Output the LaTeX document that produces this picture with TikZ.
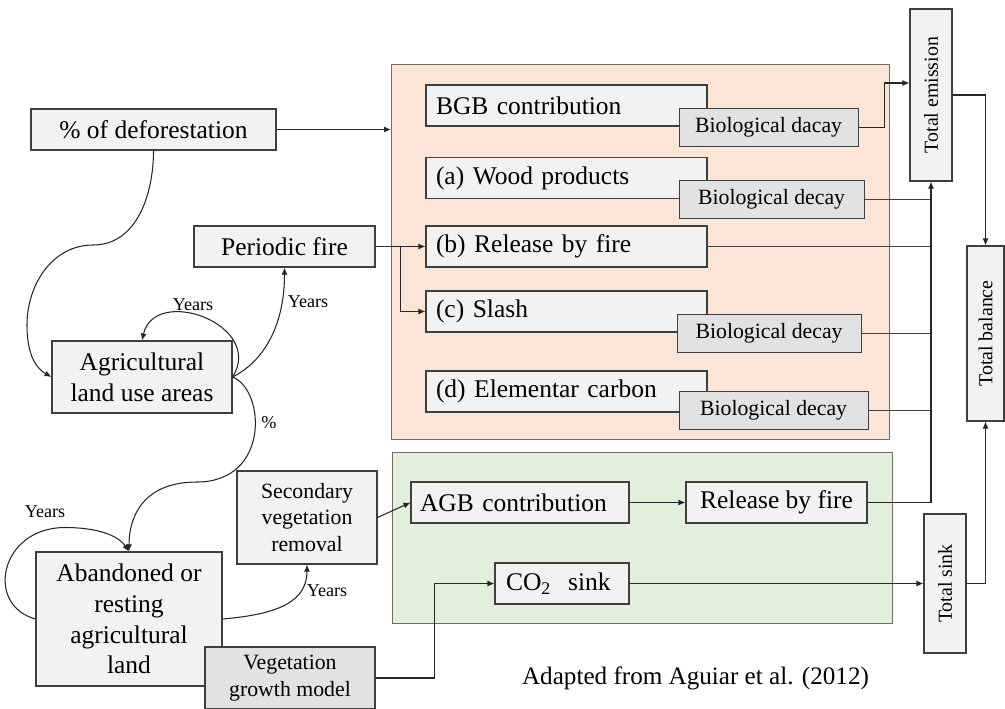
\documentclass[tikz,border=0pt]{standalone}
\usepackage{fontspec}
\setmainfont{Liberation Serif}
\usepackage{graphicx}
\usetikzlibrary{arrows.meta, positioning, calc}
\definecolor{boxgray}{HTML}{F2F2F2}
\definecolor{decaygray}{HTML}{E2E2E2}
\definecolor{emitorange}{HTML}{FBE5D6}
\definecolor{sinkgreen}{HTML}{E2EFDA}
\definecolor{edgegray}{HTML}{3F3F3F}
\definecolor{panelgray}{HTML}{746A66}
\tikzset{
    modelbox/.style={
        draw=edgegray,
        fill=boxgray,
        line width=0.6pt,
        align=center,
        inner sep=2pt,
        font=\fontsize{14.5}{17.5}\selectfont
    },
    poolbox/.style={modelbox, minimum height=0.82cm, inner xsep=0.2cm, align=left},
    decaybox/.style={modelbox, fill=decaygray, minimum height=0.76cm, font=\fontsize{12.4}{15}\selectfont},
    smallbox/.style={modelbox, font=\fontsize{12.4}{15.1}\selectfont},
    totalbox/.style={modelbox, font=\fontsize{11.3}{13}\selectfont},
    panel/.style={draw=panelgray, line width=0.6pt, anchor=north west},
    flow/.style={-{Latex[length=1.4mm, width=1.2mm]}, line width=0.6pt, draw=black!85},
    link/.style={line width=0.6pt, draw=black!75},
    tag/.style={font=\fontsize{10.3}{12}\selectfont, inner sep=1pt}
}
\begin{document}
\begin{tikzpicture}
    \useasboundingbox (0,0) rectangle (20.1,-14.18);

    \node[panel, fill=emitorange, minimum width=9.96cm, minimum height=7.5cm] (emitpanel) at (7.82,-1.28) {};
    \node[panel, fill=sinkgreen, minimum width=10cm, minimum height=3.42cm] (sinkpanel) at (7.84,-9.04) {};

    \node[modelbox, minimum width=4.9cm, minimum height=0.82cm] (deforest) at (3.07,-2.59) {\% of deforestation};
    \node[modelbox, minimum width=3.62cm, minimum height=0.82cm] (fire) at (5.69,-4.93) {Periodic fire};
    \node[modelbox, minimum width=3.6cm, minimum height=1.44cm] (agri) at (2.84,-7.54) {Agricultural\\land use areas};
    \node[modelbox, minimum width=3.72cm, minimum height=2.68cm] (abandoned) at (2.58,-12.38) {Abandoned or\\resting\\agricultural\\land};
    \node[smallbox, minimum width=2.8cm, minimum height=1.86cm] (secveg) at (6.14,-10.35) {Secondary\\vegetation\\removal};
    \node[smallbox, fill=decaygray, minimum width=3.4cm, minimum height=1.24cm] (growth) at (5.8,-13.56) {Vegetation\\growth model};

    \node[poolbox, text width=5.22cm] (bgb) at (11.33,-2.11) {BGB contribution};
    \node[poolbox, text width=5.22cm] (wood) at (11.33,-3.56) {(a) Wood products};
    \node[poolbox, text width=5.22cm] (relb) at (11.33,-4.93) {(b) Release by fire};
    \node[poolbox, text width=5.22cm] (slash) at (11.33,-6.23) {(c) Slash};
    \node[poolbox, text width=5.22cm] (elem) at (11.33,-7.83) {(d) Elementar carbon};

    \node[decaybox, minimum width=3.58cm, anchor=north west] (bgbdecay) at ($(bgb.south east)+(-0.58,0.38)$) {Biological dacay};
    \node[decaybox, minimum width=3.7cm, anchor=north west] (wooddecay) at ($(wood.south east)+(-0.58,0.38)$) {Biological decay};
    \node[decaybox, minimum width=3.68cm, anchor=north west] (slashdecay) at ($(slash.south east)+(-0.62,0.38)$) {Biological decay};
    \node[decaybox, minimum width=3.78cm, anchor=north west] (elemdecay) at ($(elem.south east)+(-0.58,0.44)$) {Biological decay};

    \node[poolbox, text width=4cm, inner xsep=0.18cm] (agb) at (10.4,-10.05) {AGB contribution};
    \node[modelbox, minimum width=3.62cm, minimum height=0.82cm] (greenfire) at (15.53,-10.05) {Release by fire};
    \node[poolbox, text width=2.24cm, inner xsep=0.22cm] (co2) at (11.24,-11.67) {CO\textsubscript{2}\ \ sink};

    \node[totalbox, minimum width=0.84cm, minimum height=3.44cm] (emission) at (18.62,-1.9) {\rotatebox{90}{Total emission}};
    \node[totalbox, minimum width=0.74cm, minimum height=3.5cm] (balance) at (19.71,-6.67) {\rotatebox{90}{Total balance}};
    \node[totalbox, minimum width=0.84cm, minimum height=2.78cm] (sink) at (18.9,-11.67) {\rotatebox{90}{Total sink}};

    \node[font=\fontsize{14.3}{17}\selectfont] (credit) at (13.91,-13.56) {Adapted from Aguiar et al. (2012)};

    \draw[flow] (deforest.east) -- (deforest.east -| emitpanel.west);
    \draw[flow] (fire.east) -- (relb.west);
    \coordinate (firesplit) at ($(fire.east)!0.5!(relb.west)$);
    \draw[flow] (firesplit) |- (slash.west);

    \draw[flow] (bgbdecay.east) -- ++(0.52,0) |- ($(emission.west)+(0,0.24)$);
    \draw[link] (wooddecay.east) -- (wooddecay.east -| emission.south);
    \draw[link] (relb.east) -- (relb.east -| emission.south);
    \draw[link] (slashdecay.east) -- (slashdecay.east -| emission.south);
    \draw[link] (elemdecay.east) -- (elemdecay.east -| emission.south);
    \draw[flow] (greenfire.east) -| (emission.south);
    \draw[flow] (emission.east) -| (balance.north);
    \draw[flow] (sink.east) -| (balance.south);
    \draw[flow] (co2.east) -- (sink.west);
    \draw[flow] (agb.east) -- (greenfire.west);
    \draw[flow] (secveg.east) -- (agb.west);
    \draw[flow] (growth.east) -- ++(1.18,0) |- (co2.west);

    \draw[flow] (deforest.south) to[out=-90, in=0] (1.86,-4.9) to[out=180, in=90] (0.54,-6.5) to[out=-90, in=150] (agri.west);
    \draw[flow] (agri.east) .. controls +(0.66,1.04) and +(0.26,1.12) .. (agri.north);
    \draw[flow] (agri.east) .. controls +(0.6,0.3) and +(0,-1.2) .. (fire.south);
    \draw[flow] (agri.east) .. controls +(0.66,-0.26) and (5.4,-9.64) .. (3.94,-9.64) .. controls (2.9,-9.64) and +(0,0.74) .. (abandoned.north);
    \draw[flow] (abandoned.west) .. controls +(-1.02,0.28) and (0,-10.55) .. (1.3,-10.55) .. controls (1.9,-10.55) and +(-0.23,0.34) .. (abandoned.north);
    \draw[flow] (abandoned.east) .. controls +(1.2,0.1) and +(0,-0.7) .. (secveg.south);

    \node[tag] (agriyears) at (3.86,-6.1) {Years};
    \node[tag] (fireyears) at (6.16,-6.04) {Years};
    \node[tag] (agripercent) at (5.38,-8.46) {\%};
    \node[tag] (restyears) at (0.9,-10.24) {Years};
    \node[tag] (vegyears) at (6.54,-11.82) {Years};
\end{tikzpicture}
\end{document}
